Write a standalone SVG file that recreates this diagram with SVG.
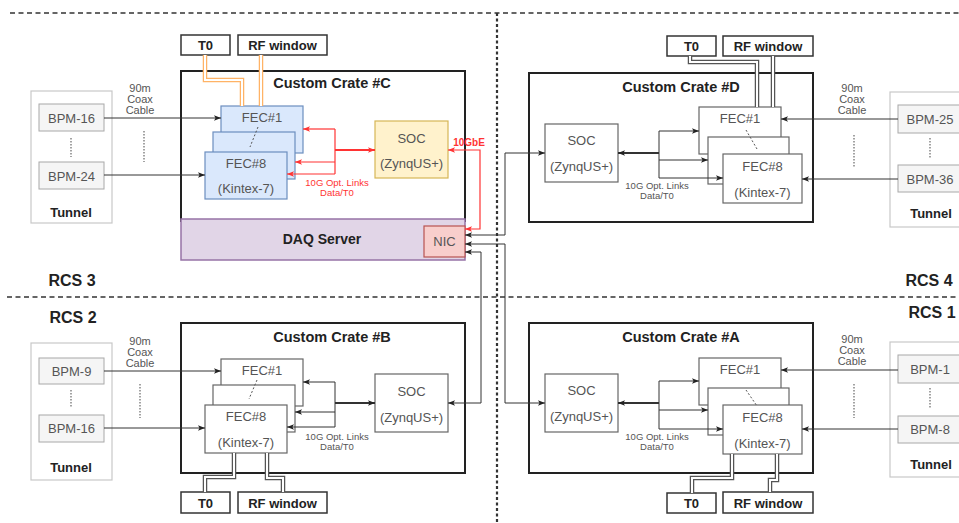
<svg xmlns="http://www.w3.org/2000/svg" width="959" height="523" viewBox="0 0 959 523">
<style>
text{font-family:"Liberation Sans",Arial,sans-serif;text-anchor:middle}
.t13{font-size:13px;fill:#555}
.b13{font-size:13px;font-weight:bold;fill:#222}
.title{font-size:14.5px;font-weight:bold;fill:#222}
.rcs{font-size:16px;font-weight:bold;fill:#222}
.small{font-size:11px;fill:#555}
.opt{font-size:9.5px;fill:#555}
.optr{font-size:9.5px;fill:#ff3333}
.crate{fill:#fff;stroke:#222;stroke-width:2}
.tun{fill:#fff;stroke:#c8c8c8;stroke-width:1.2}
.bpm{fill:#f5f5f5;stroke:#a8a8a8;stroke-width:1}
.wbox{fill:#fff;stroke:#666;stroke-width:1.2}
.lbl{fill:#fff;stroke:#333;stroke-width:1.5}
.fecc{fill:#dae8fc;stroke:#6c8ebf;stroke-width:1.2}
.socc{fill:#fff2cc;stroke:#d6b656;stroke-width:1.2}
.sep{fill:none;stroke:#333;stroke-width:1.5;stroke-dasharray:5 3.5}
.vsep{fill:none;stroke:#333;stroke-width:2.2;stroke-dasharray:3 2.5}
.dots{fill:none;stroke:#666;stroke-width:1.2;stroke-dasharray:1.5 1.5}
.carddash{fill:none;stroke:#555;stroke-width:1;stroke-dasharray:2 2}
.ln{fill:none;stroke:#333;stroke-width:1}
.lnr{fill:none;stroke:#ff3333;stroke-width:1.2}
.thick{fill:none;stroke:#333;stroke-width:2.2}
.thickr{fill:none;stroke:#ff3333;stroke-width:2.2}
.dblo{fill:none;stroke:#ffb366;stroke-width:4.5}
.dblg{fill:none;stroke:#555;stroke-width:4.5}
.dbli{fill:none;stroke:#fff;stroke-width:2}
</style>
<defs>
<marker id="ah" viewBox="0 0 8 8" refX="8" refY="4" markerWidth="7" markerHeight="7" markerUnits="userSpaceOnUse" orient="auto-start-reverse"><path d="M0,0.8 L8,4 L0,7.2 L1.8,4 z" fill="#222"/></marker>
<marker id="ahr" viewBox="0 0 8 8" refX="8" refY="4" markerWidth="7" markerHeight="7" markerUnits="userSpaceOnUse" orient="auto-start-reverse"><path d="M0,0.8 L8,4 L0,7.2 L1.8,4 z" fill="#ff3333"/></marker>
</defs>

<g id="separators">
<path class="sep" d="M10,13 H959"/>
<path class="sep" d="M7,297 H959"/>
<path class="vsep" d="M497,13 V523"/>
</g>

<g id="rcs-labels">
<text class="rcs" x="72" y="286">RCS 3</text>
<text class="rcs" x="929" y="286">RCS 4</text>
<text class="rcs" x="73" y="323">RCS 2</text>
<text class="rcs" x="932" y="318">RCS 1</text>
</g>

<!-- ===== Quadrant C ===== -->
<g id="tunnel-c">
<rect class="tun" x="31" y="91" width="81" height="132"/>
<text class="b13" x="71" y="217">Tunnel</text>
</g>
<g id="bpm-16-c"><rect class="bpm" x="39" y="104" width="65" height="27"/><text class="t13" x="71.5" y="122.5">BPM-16</text></g>
<g id="bpm-24"><rect class="bpm" x="39" y="162" width="65" height="27"/><text class="t13" x="71.5" y="180.5">BPM-24</text></g>
<g id="crate-c">
<rect class="crate" x="181" y="71" width="284" height="150"/>
<text class="title" x="332" y="88">Custom Crate #C</text>
</g>
<g id="daq-server">
<rect x="181" y="219" width="284" height="41" fill="#e1d5e7" stroke="#9673a6" stroke-width="1.5"/>
<text class="b13" x="322" y="244" style="font-size:14px">DAQ Server</text>
</g>
<g id="nic">
<rect x="424" y="226" width="41" height="31" fill="#f8cecc" stroke="#b85450" stroke-width="1.2"/>
<text class="t13" x="444.5" y="246">NIC</text>
</g>
<g id="t0-c"><rect class="lbl" x="181" y="35" width="49" height="20"/><text class="b13" x="205.5" y="50">T0</text></g>
<g id="rf-c"><rect class="lbl" x="238" y="35" width="89" height="20"/><text class="b13" x="282.5" y="50">RF window</text></g>
<g id="fec-c">
<rect class="fecc" x="221" y="106" width="82" height="47"/>
<text class="t13" x="262" y="122">FEC#1</text>
<rect class="fecc" x="213" y="132" width="82" height="47"/>
<rect class="fecc" x="205" y="152" width="82" height="47"/>
<text class="t13" x="246" y="168">FEC#8</text>
<text class="t13" x="246" y="193">(Kintex-7)</text>
<path class="carddash" d="M258,127 L250,147"/>
</g>
<g id="soc-c">
<rect class="socc" x="375" y="121" width="73" height="57"/>
<text class="t13" x="411.5" y="143">SOC</text>
<text class="t13" x="411.5" y="168">(ZynqUS+)</text>
</g>

<!-- ===== Quadrant D ===== -->
<g id="crate-d">
<rect class="crate" x="529" y="73" width="284" height="149"/>
<text class="title" x="681" y="92">Custom Crate #D</text>
</g>
<g id="t0-d"><rect class="lbl" x="667" y="36" width="49" height="20"/><text class="b13" x="691.5" y="51">T0</text></g>
<g id="rf-d"><rect class="lbl" x="723" y="36" width="90" height="20"/><text class="b13" x="768" y="51">RF window</text></g>
<g id="soc-d">
<rect class="wbox" x="545" y="124" width="73" height="58"/>
<text class="t13" x="581.5" y="145">SOC</text>
<text class="t13" x="581.5" y="171">(ZynqUS+)</text>
</g>
<g id="fec-d">
<rect class="wbox" x="699" y="107" width="82" height="47"/>
<text class="t13" x="740" y="123">FEC#1</text>
<rect class="wbox" x="708" y="137" width="81" height="47"/>
<rect class="wbox" x="723" y="154" width="79" height="49"/>
<text class="t13" x="762.5" y="171">FEC#8</text>
<text class="t13" x="762.5" y="197">(Kintex-7)</text>
<path class="carddash" d="M746,130 L757,149"/>
</g>
<g id="tunnel-d">
<rect class="tun" x="890" y="92" width="80" height="135"/>
<text class="b13" x="931" y="218">Tunnel</text>
</g>
<g id="bpm-25"><rect class="bpm" x="898" y="105" width="66" height="28"/><text class="t13" x="930" y="124">BPM-25</text></g>
<g id="bpm-36"><rect class="bpm" x="898" y="165" width="66" height="27"/><text class="t13" x="930" y="183.5">BPM-36</text></g>

<!-- ===== Quadrant B ===== -->
<g id="tunnel-b">
<rect class="tun" x="31" y="343" width="81" height="137"/>
<text class="b13" x="71" y="472">Tunnel</text>
</g>
<g id="bpm-9"><rect class="bpm" x="39" y="358" width="65" height="26"/><text class="t13" x="71.5" y="375.5">BPM-9</text></g>
<g id="bpm-16-b"><rect class="bpm" x="39" y="415" width="65" height="27"/><text class="t13" x="71.5" y="433">BPM-16</text></g>
<g id="crate-b">
<rect class="crate" x="181" y="323" width="284" height="150"/>
<text class="title" x="332" y="342">Custom Crate #B</text>
</g>
<g id="fec-b">
<rect class="wbox" x="221" y="359" width="82" height="47"/>
<text class="t13" x="262" y="375">FEC#1</text>
<rect class="wbox" x="213" y="385" width="82" height="47"/>
<rect class="wbox" x="205" y="405" width="82" height="48"/>
<text class="t13" x="246" y="421">FEC#8</text>
<text class="t13" x="246" y="447">(Kintex-7)</text>
<path class="carddash" d="M257,380 L249,399"/>
</g>
<g id="soc-b">
<rect class="wbox" x="375" y="374" width="73" height="58"/>
<text class="t13" x="411.5" y="396">SOC</text>
<text class="t13" x="411.5" y="422">(ZynqUS+)</text>
</g>
<g id="t0-b"><rect class="lbl" x="181" y="492" width="49" height="21"/><text class="b13" x="205.5" y="507.5">T0</text></g>
<g id="rf-b"><rect class="lbl" x="238" y="492" width="89" height="21"/><text class="b13" x="282.5" y="507.5">RF window</text></g>

<!-- ===== Quadrant A ===== -->
<g id="crate-a">
<rect class="crate" x="529" y="323" width="284" height="150"/>
<text class="title" x="681" y="342">Custom Crate #A</text>
</g>
<g id="soc-a">
<rect class="wbox" x="545" y="374" width="73" height="58"/>
<text class="t13" x="581.5" y="395">SOC</text>
<text class="t13" x="581.5" y="421">(ZynqUS+)</text>
</g>
<g id="fec-a">
<rect class="wbox" x="699" y="358" width="82" height="47"/>
<text class="t13" x="740" y="374">FEC#1</text>
<rect class="wbox" x="708" y="388" width="81" height="47"/>
<rect class="wbox" x="723" y="405" width="79" height="49"/>
<text class="t13" x="762.5" y="422">FEC#8</text>
<text class="t13" x="762.5" y="448">(Kintex-7)</text>
<path class="carddash" d="M746,390 L757,406"/>
</g>
<g id="t0-a"><rect class="lbl" x="667" y="493" width="49" height="20"/><text class="b13" x="691.5" y="508">T0</text></g>
<g id="rf-a"><rect class="lbl" x="723" y="492" width="90" height="21"/><text class="b13" x="768" y="507.5">RF window</text></g>
<g id="tunnel-a">
<rect class="tun" x="890" y="342" width="80" height="135"/>
<text class="b13" x="931" y="469">Tunnel</text>
</g>
<g id="bpm-1"><rect class="bpm" x="898" y="355" width="66" height="28"/><text class="t13" x="930" y="374">BPM-1</text></g>
<g id="bpm-8"><rect class="bpm" x="898" y="416" width="66" height="27"/><text class="t13" x="930" y="434">BPM-8</text></g>

<!-- ===== Connectors ===== -->
<g id="connectors">
<path class="ln" d="M104,118 H221" marker-end="url(#ah)"/>
<path class="ln" d="M104,175 H205" marker-end="url(#ah)"/>
<path class="ln" d="M104,371 H221" marker-end="url(#ah)"/>
<path class="ln" d="M104,428 H205" marker-end="url(#ah)"/>
<path class="ln" d="M898,119 H781" marker-end="url(#ah)"/>
<path class="ln" d="M898,179 H802" marker-end="url(#ah)"/>
<path class="ln" d="M898,370 H781" marker-end="url(#ah)"/>
<path class="ln" d="M898,429 H802" marker-end="url(#ah)"/>
<path class="thickr" d="M335,150 H375" marker-end="url(#ahr)"/>
<path class="lnr" d="M335,129 V174"/>
<path class="lnr" d="M335,129 H303" marker-end="url(#ahr)"/>
<path class="lnr" d="M335,162 H295" marker-end="url(#ahr)"/>
<path class="lnr" d="M335,174 H287" marker-end="url(#ahr)"/>
<path class="lnr" d="M448,150 H480 V229 H465" marker-start="url(#ahr)" marker-end="url(#ahr)"/>
<path class="thick" d="M659,153 H618" marker-end="url(#ah)"/>
<path class="ln" d="M659,131 V178"/>
<path class="ln" d="M659,131 H699" marker-end="url(#ah)"/>
<path class="ln" d="M659,160 H708" marker-end="url(#ah)"/>
<path class="ln" d="M659,178 H723" marker-end="url(#ah)"/>
<path class="thick" d="M335,403 H375" marker-end="url(#ah)"/>
<path class="ln" d="M335,382 V427"/>
<path class="ln" d="M335,382 H303" marker-end="url(#ah)"/>
<path class="ln" d="M335,412 H295" marker-end="url(#ah)"/>
<path class="ln" d="M335,427 H287" marker-end="url(#ah)"/>
<path class="thick" d="M659,403 H618" marker-end="url(#ah)"/>
<path class="ln" d="M659,381 V429"/>
<path class="ln" d="M659,381 H699" marker-end="url(#ah)"/>
<path class="ln" d="M659,410 H708" marker-end="url(#ah)"/>
<path class="ln" d="M659,429 H723" marker-end="url(#ah)"/>
<path class="ln" d="M465,235 H505 V153 H545" marker-start="url(#ah)" marker-end="url(#ah)"/>
<path class="ln" d="M465,244 H505 V403 H545" marker-start="url(#ah)" marker-end="url(#ah)"/>
<path class="ln" d="M465,252 H481 V403 H448" marker-start="url(#ah)" marker-end="url(#ah)"/>
<path class="dblo" d="M205,55 V80 H242 V106"/><path class="dbli" d="M205,55 V80 H242 V106"/>
<path class="dblo" d="M261,55 V106"/><path class="dbli" d="M261,55 V106"/>
<path class="dblg" d="M690,56 V62 H757 V107"/><path class="dbli" d="M690,56 V62 H757 V107"/>
<path class="dblg" d="M773,56 V107"/><path class="dbli" d="M773,56 V107"/>
<path class="dblg" d="M234,453 V477 H205 V492"/><path class="dbli" d="M234,453 V477 H205 V492"/>
<path class="dblg" d="M267,453 V478 H283 V492"/><path class="dbli" d="M267,453 V478 H283 V492"/>
<path class="dblg" d="M732,454 V478 H692 V493"/><path class="dbli" d="M732,454 V478 H692 V493"/>
<path class="dblg" d="M777,454 V480 H770 V492"/><path class="dbli" d="M777,454 V480 H770 V492"/>
</g>

<g id="connector-labels">
<text class="small" x="140" y="92">90m</text>
<text class="small" x="140" y="103">Coax</text>
<text class="small" x="140" y="114">Cable</text>
<path class="dots" d="M144,131 V162"/>
<path class="dots" d="M71,138 V157"/>
<text class="small" x="140" y="345">90m</text>
<text class="small" x="140" y="356">Coax</text>
<text class="small" x="140" y="367">Cable</text>
<path class="dots" d="M140,384 V418"/>
<path class="dots" d="M71,390 V408"/>
<text class="small" x="852" y="92">90m</text>
<text class="small" x="852" y="103">Coax</text>
<text class="small" x="852" y="114">Cable</text>
<path class="dots" d="M854,135 V168"/>
<path class="dots" d="M930,138 V158"/>
<text class="small" x="852" y="343">90m</text>
<text class="small" x="852" y="354">Coax</text>
<text class="small" x="852" y="365">Cable</text>
<path class="dots" d="M854,384 V418"/>
<path class="dots" d="M930,388 V408"/>
<text class="optr" x="337" y="186">10G Opt. Links</text>
<text class="optr" x="337" y="196">Data/T0</text>
<text class="optr" x="469" y="146" style="font-weight:bold;font-size:10px">10GbE</text>
<text class="opt" x="657" y="189">10G Opt. Links</text>
<text class="opt" x="657" y="199">Data/T0</text>
<text class="opt" x="337" y="440">10G Opt. Links</text>
<text class="opt" x="337" y="450">Data/T0</text>
<text class="opt" x="657" y="440">10G Opt. Links</text>
<text class="opt" x="657" y="450">Data/T0</text>
</g>
</svg>
